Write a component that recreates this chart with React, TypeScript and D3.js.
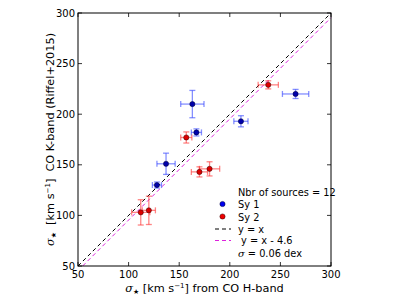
import React from 'react';
import * as d3 from 'd3';

// Sy 1 sources: x = sigma from CO H-band, y = sigma CO K-band
const sy1X = [128, 137, 163, 167, 211, 265];
const sy1Y = [130, 151, 210, 182, 193, 220];
const sy1Xerr = [4.5, 9, 11.5, 5, 7, 13];
const sy1Yerr = [3, 10.5, 13.5, 3.5, 5.5, 4.5];

// Sy 2 sources
const sy2X = [112, 120, 157, 170, 180, 238];
const sy2Y = [103, 105, 177, 143, 146, 229];
const sy2Xerr = [9, 6.5, 5.5, 8, 10, 10];
const sy2Yerr = [12.5, 14, 5.5, 5, 7, 4];

const ticks = [50, 100, 150, 200, 250, 300];
const offset = 4.6;

const App: React.FC = () => {
  const width = 407;
  const height = 305;
  const left = 78;
  const right = 331;
  const top = 13;
  const bottom = 266;

  const x = d3.scaleLinear().domain([50, 300]).range([left, right]);
  const y = d3.scaleLinear().domain([50, 300]).range([bottom, top]);
  const line = d3
    .line<[number, number]>()
    .x((d) => x(d[0]))
    .y((d) => y(d[1]));

  const series = [
    { xs: sy1X, ys: sy1Y, xe: sy1Xerr, ye: sy1Yerr, bar: '#3344ff', dot: '#0000aa', edge: '#000033' },
    { xs: sy2X, ys: sy2Y, xe: sy2Xerr, ye: sy2Yerr, bar: '#ff3333', dot: '#dd0000', edge: '#330000' },
  ];
  const cap = 3;
  const font = 'DejaVu Sans, sans-serif';

  return (
    <svg width={width} height={height} style={{ position: 'absolute', left: 0, top: 0 }}>
      <rect width={width} height={height} fill="#fff" />
      <path
        d={line([[50, 50], [300, 300]]) ?? ''}
        stroke="#000"
        strokeWidth={1}
        strokeDasharray="4,3"
        fill="none"
      />
      <path
        d={line([[50 + offset, 50], [300, 300 - offset]]) ?? ''}
        stroke="#dd22dd"
        strokeWidth={1}
        strokeDasharray="4,3"
        fill="none"
      />
      {series.map((s, si) => (
        <g key={si}>
          {s.xs.map((xv, i) => {
            const cx = x(xv);
            const cy = y(s.ys[i]);
            const x0 = x(xv - s.xe[i]);
            const x1 = x(xv + s.xe[i]);
            const y0 = y(s.ys[i] - s.ye[i]);
            const y1 = y(s.ys[i] + s.ye[i]);
            return (
              <g key={i} stroke={s.bar} strokeWidth={1.3} strokeOpacity={0.6}>
                <line x1={x0} x2={x1} y1={cy} y2={cy} />
                <line x1={cx} x2={cx} y1={y0} y2={y1} />
                <line x1={x0} x2={x0} y1={cy - cap} y2={cy + cap} />
                <line x1={x1} x2={x1} y1={cy - cap} y2={cy + cap} />
                <line x1={cx - cap} x2={cx + cap} y1={y0} y2={y0} />
                <line x1={cx - cap} x2={cx + cap} y1={y1} y2={y1} />
              </g>
            );
          })}
          {s.xs.map((xv, i) => (
            <circle
              key={'p' + i}
              cx={x(xv)}
              cy={y(s.ys[i])}
              r={2.6}
              fill={s.dot}
              stroke={s.edge}
              strokeWidth={0.5}
            />
          ))}
        </g>
      ))}
      <rect x={left} y={top} width={right - left} height={bottom - top} fill="none" stroke="#000" strokeWidth={1} />
      {ticks.map((t) => (
        <g key={t} stroke="#000" strokeWidth={0.8}>
          <line x1={x(t)} x2={x(t)} y1={bottom} y2={bottom - 4} />
          <line x1={x(t)} x2={x(t)} y1={top} y2={top + 4} />
          <line x1={left} x2={left + 4} y1={y(t)} y2={y(t)} />
          <line x1={right} x2={right - 4} y1={y(t)} y2={y(t)} />
        </g>
      ))}
      <g fontFamily={font} fontSize={10} fill="#000">
        {ticks.map((t) => (
          <text key={'x' + t} x={x(t)} y={bottom + 12} textAnchor="middle">
            {t}
          </text>
        ))}
        {ticks.map((t) => (
          <text key={'y' + t} x={left - 3} y={y(t) + 3.5} textAnchor="end">
            {t}
          </text>
        ))}
      </g>
      <text x={(left + right) / 2} y={292} textAnchor="middle" fontFamily={font} fontSize={11.3} xmlSpace="preserve">
        <tspan fontStyle="italic" fontFamily="DejaVu Serif, serif">σ</tspan>
        <tspan fontSize={7} dy={2}>★</tspan>
        <tspan dy={-2}> [km s</tspan>
        <tspan fontSize={7} dy={-4}>−1</tspan>
        <tspan dy={4}>] from CO H-band</tspan>
      </text>
      <text
        transform={`translate(54, ${(top + bottom) / 2}) rotate(-90)`}
        textAnchor="middle"
        fontFamily={font}
        fontSize={11.3}
        xmlSpace="preserve"
      >
        <tspan fontStyle="italic" fontFamily="DejaVu Serif, serif">σ</tspan>
        <tspan fontSize={7} dy={2}>★</tspan>
        <tspan dy={-2}>  [km s</tspan>
        <tspan fontSize={7} dy={-4}>−1</tspan>
        <tspan dy={4}>]  CO K-band (Riffel+2015)</tspan>
      </text>
      <g fontFamily={font} fontSize={9.8} fill="#000">
        <text x={238} y={196}>Nbr of sources = 12</text>
        <circle cx={222.5} cy={204} r={2.6} fill="#0000ee" stroke="#000033" strokeWidth={0.5} />
        <text x={238} y={208}>Sy 1</text>
        <circle cx={222.5} cy={216.5} r={2.6} fill="#ee0000" stroke="#330000" strokeWidth={0.5} />
        <text x={238} y={220.5}>Sy 2</text>
        <line x1={215} x2={231} y1={229} y2={229} stroke="#000" strokeDasharray="4,3" />
        <text x={238} y={232.5}>y = x</text>
        <line x1={215} x2={231} y1={240.5} y2={240.5} stroke="#dd22dd" strokeDasharray="4,3" />
        <text x={238} y={244} xmlSpace="preserve"> y = x - 4.6</text>
        <text x={238} y={256.5}>
          <tspan fontStyle="italic" fontFamily="DejaVu Serif, serif">σ</tspan> = 0.06 dex
        </text>
      </g>
    </svg>
  );
};

export default App;
